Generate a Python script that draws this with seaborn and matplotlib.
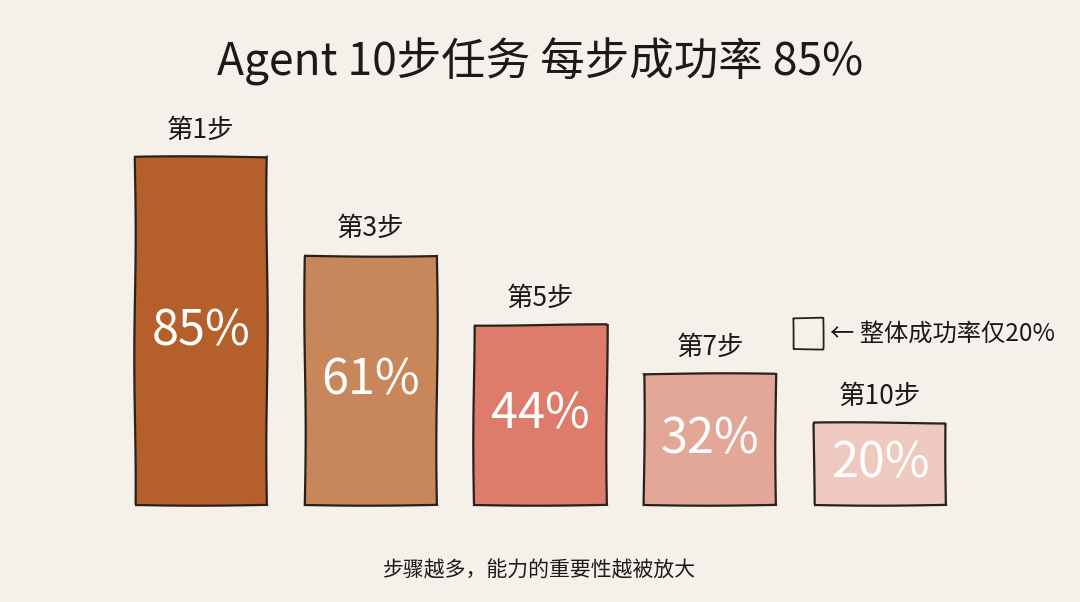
import matplotlib
matplotlib.use("Agg")
import matplotlib.pyplot as plt
import seaborn as sns
import pandas as pd

# 数据
steps = ["第1步", "第3步", "第5步", "第7步", "第10步"]
success = [85, 61, 44, 32, 20]
colors = ["#B5602A", "#C8865B", "#DD7C6B", "#E2A797", "#EDC9C0"]

title = "Agent 10步任务 每步成功率 85%"
note = "← 整体成功率仅20%"
footer = "步骤越多，能力的重要性越被放大"

bg = "#F5F1EA"

sns.set_theme(style="white")
plt.rcParams["font.family"] = ["Noto Sans CJK SC", "DejaVu Sans"]

df = pd.DataFrame({"step": steps, "rate": success})

fig = plt.figure(figsize=(10.8, 6.02), dpi=100)
fig.patch.set_facecolor(bg)
ax = fig.add_axes([0, 0, 1, 1])
ax.set_facecolor(bg)

sns.barplot(data=df, x="step", y="rate", hue="step", palette=colors,
            width=0.78, legend=False, ax=ax, saturation=1)

for p in ax.patches:
    p.set_edgecolor("#2a211c")
    p.set_linewidth(1.6)
    p.set_sketch_params(scale=0.7, length=250, randomness=1)

for i, v in enumerate(success):
    ax.text(i, v / 2, f"{v}%", ha="center", va="center", color="white",
            fontsize=35, fontweight="medium")
    ax.text(i, v + 3.3, steps[i], ha="center", va="bottom", color="#1a1a1a",
            fontsize=19, fontweight="medium")

ax.set_xlim(-1.184, 5.178)
ax.set_ylim(-23.7, 123.5)
ax.axis("off")

# 图例方框与说明
box = plt.Rectangle((793 / 1080, 1 - 349 / 602), 30 / 1080, 31 / 602,
                    transform=fig.transFigure, facecolor="none",
                    edgecolor="#2a211c", linewidth=1.3)
box.set_sketch_params(scale=0.6, length=150, randomness=1)
fig.patches.append(box)
fig.text(830 / 1080, 1 - 334 / 602, note, ha="left", va="center",
         fontsize=17.5, color="#1a1a1a")

fig.text(0.5, 1 - 62 / 602, title, ha="center", va="center",
         fontsize=32, fontweight="medium", color="#1a1a1a")
fig.text(0.5, 1 - 571 / 602, footer, ha="center", va="center",
         fontsize=15, color="#1a1a1a")

fig.savefig("out.png", dpi=100, facecolor=bg)
